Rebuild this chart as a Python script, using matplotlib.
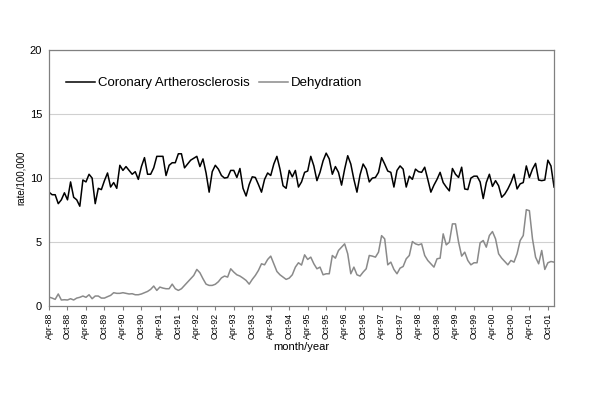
#%% Imports
import pandas as pd
import numpy as np
import matplotlib.pyplot as plt

plt.rcParams['font.family'] = ['Liberation Sans', 'DejaVu Sans']

#%% Data (monthly rates per 100,000, Apr-88 .. Dec-01)
months = pd.date_range('1988-04-01', '2001-12-01', freq='MS')
month_labels = [m.strftime('%b-%y') for m in months]

coronary = [8.9, 8.7, 8.7, 8.0, 8.3, 8.85, 8.3, 9.7, 8.5, 8.3, 7.8, 9.85,
            9.7, 10.3, 10.0, 8.0, 9.2, 9.1, 9.8, 10.4, 9.3, 9.65, 9.2, 11.0,
            10.6, 10.9, 10.6, 10.3, 10.5, 9.9, 10.9, 11.6, 10.3, 10.3, 10.8, 11.7,
            11.7, 11.7, 10.2, 11.0, 11.2, 11.2, 11.9, 11.9, 10.8, 11.1, 11.4, 11.55,
            11.7, 10.9, 11.5, 10.4, 8.9, 10.5, 11.0, 10.7, 10.2, 10.0, 10.05, 10.6,
            10.6, 10.05, 10.75, 9.2, 8.6, 9.5, 10.1, 10.05, 9.5, 8.9, 9.9, 10.4,
            10.2, 11.1, 11.7, 10.7, 9.4, 9.2, 10.6, 10.1, 10.6, 9.3, 9.7, 10.45,
            10.55, 11.7, 10.95, 9.8, 10.45, 11.35, 11.95, 11.5, 10.3, 10.9, 10.45, 9.45,
            10.7, 11.75, 11.1, 9.9, 8.9, 10.25, 11.1, 10.7, 9.7, 10.0, 10.05, 10.45,
            11.6, 11.1, 10.55, 10.45, 9.3, 10.6, 10.95, 10.7, 9.3, 10.15, 9.9, 10.7,
            10.5, 10.45, 10.85, 9.9, 8.9, 9.45, 9.9, 10.45, 9.65, 9.3, 9.0, 10.75,
            10.3, 10.05, 10.85, 9.15, 9.1, 10.0, 10.15, 10.15, 9.7, 8.4, 9.65, 10.3,
            9.35, 9.8, 9.4, 8.5, 8.75, 9.15, 9.65, 10.3, 9.15, 9.55, 9.65, 10.95,
            10.05, 10.7, 11.15, 9.85, 9.8, 9.85, 11.4, 10.95, 9.3]

dehydration = [0.7, 0.62, 0.52, 0.94, 0.47, 0.49, 0.47, 0.57, 0.47, 0.62, 0.68, 0.78,
               0.68, 0.88, 0.57, 0.78, 0.78, 0.62, 0.62, 0.73, 0.83, 1.04, 0.99, 0.99,
               1.04, 0.99, 0.94, 0.96, 0.88, 0.88, 0.94, 1.04, 1.14, 1.3, 1.56, 1.22,
               1.48, 1.4, 1.35, 1.35, 1.71, 1.35, 1.22, 1.35, 1.61, 1.87, 2.13, 2.39,
               2.86, 2.6, 2.13, 1.71, 1.61, 1.61, 1.7, 1.9, 2.2, 2.34, 2.26, 2.91,
               2.65, 2.44, 2.34, 2.18, 2.0, 1.71, 2.08, 2.39, 2.78, 3.3, 3.22, 3.64,
               3.9, 3.3, 2.7, 2.44, 2.26, 2.08, 2.18, 2.44, 3.04, 3.38, 3.2, 4.0,
               3.64, 3.82, 3.3, 2.91, 3.04, 2.44, 2.52, 2.52, 3.95, 3.74, 4.34, 4.6,
               4.86, 4.08, 2.52, 3.04, 2.44, 2.34, 2.65, 2.91, 3.95, 3.9, 3.82, 4.21,
               5.5, 5.25, 3.22, 3.43, 2.86, 2.52, 2.96, 3.09, 3.69, 3.95, 5.04, 4.86,
               4.78, 4.86, 3.95, 3.56, 3.3, 3.04, 3.69, 3.74, 5.64, 4.78, 4.99, 6.42,
               6.42, 4.99, 3.9, 4.21, 3.56, 3.22, 3.38, 3.38, 4.94, 5.12, 4.6, 5.51,
               5.82, 5.25, 4.08, 3.74, 3.48, 3.22, 3.56, 3.43, 4.08, 5.12, 5.51, 7.53,
               7.45, 5.25, 3.82, 3.3, 4.34, 2.86, 3.38, 3.48, 3.43]

y_ticks = [0, 5, 10, 15, 20]

#%% Plot
x = np.arange(len(months))
fig = plt.figure(figsize=(6, 3.95), dpi=100)
ax = fig.add_axes([0.0817, 0.2253, 0.8417, 0.6477])

for y in y_ticks[1:]:
    ax.axhline(y, color='#d0d0d0', lw=0.8, zorder=0)   # light grid lines

ax.plot(x, coronary, color='black', lw=1.1, label='Coronary Artherosclerosis')
ax.plot(x, dehydration, color='#8a8a8a', lw=1.1, label='Dehydration')

ax.set_xlim(0, len(months) - 1)
ax.set_ylim(0, 20)
ax.set_yticks(y_ticks)
ax.tick_params(axis='y', length=0, labelsize=8, pad=5)
ax.set_xticks(x[::6])   # label every 6th month
ax.set_xticklabels(month_labels[::6], rotation=90, fontsize=6.3)
ax.tick_params(axis='x', length=3, color='#808080', pad=2)

for s in ax.spines.values():
    s.set_color('#808080')
    s.set_linewidth(0.9)

ax.set_xlabel('month/year', fontsize=8, labelpad=2)
ax.set_ylabel('rate/100,000', fontsize=7, labelpad=3)

ax.legend(loc='center left', bbox_to_anchor=(0.034, 0.871), ncol=2, frameon=False,
          fontsize=9.5, handlelength=2.2, handletextpad=0.2, columnspacing=0.7,
          borderaxespad=0, borderpad=0)

plt.savefig('out.png', dpi=100)
